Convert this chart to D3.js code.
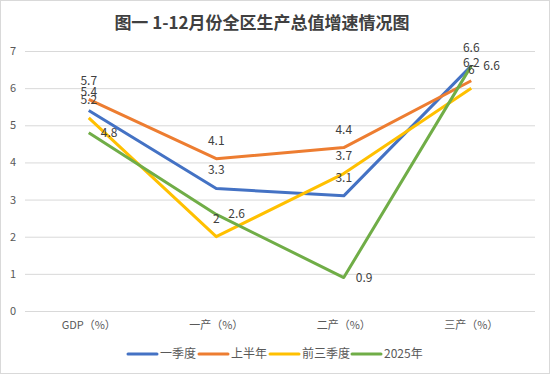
<!DOCTYPE html>
<html>
<head>
<meta charset="utf-8">
<script src="https://cdn.jsdelivr.net/npm/d3@7"></script>
<style>
  body { margin: 0; background: #fff; }
  svg text { font-family: "Noto Sans CJK SC", "Noto Sans", sans-serif; }
</style>
</head>
<body>
<div id="viz"></div>
<script>
// chart data
var categories = ["GDP（%）", "一产（%）", "二产（%）", "三产（%）"];
var seriesNames = ["一季度", "上半年", "前三季度", "2025年"];
var q1Values = [5.4, 3.3, 3.1, 6.6];
var h1Values = [5.7, 4.1, 4.4, 6.2];
var q3Values = [5.2, 2.0, 3.7, 6.0];
var yearValues = [4.8, 2.6, 0.9, 6.6];
var yTicks = [0, 1, 2, 3, 4, 5, 6, 7];

var colors = ["#4472C4", "#ED7D31", "#FFC000", "#70AD47"];
var allValues = [q1Values, h1Values, q3Values, yearValues];

var width = 550,
    height = 374;

var svg = d3.select("div#viz")
            .append("svg")
            .attr("width", width)
            .attr("height", height);

// outer border like the office chart frame
svg.append("rect")
   .attr("x", 0.5).attr("y", 0.5)
   .attr("width", width - 1).attr("height", height - 1)
   .attr("fill", "#fff")
   .attr("stroke", "#d9d9d9");

var xScale = d3.scaleBand()
               .domain(categories)
               .range([25, 535]);

var yScale = d3.scaleLinear()
               .domain([0, 7])
               .range([311, 51]);

var xMid = function(c) { return xScale(c) + xScale.bandwidth() / 2; };

// title
svg.append("text")
   .attr("x", 262)
   .attr("y", 29)
   .attr("text-anchor", "middle")
   .style("font-size", "17px")
   .style("font-weight", "bold")
   .attr("fill", "#404040")
   .text("图一  1-12月份全区生产总值增速情况图");

// gridlines + y labels
var yAxis = d3.axisLeft(yScale)
              .tickValues(yTicks)
              .tickFormat(d3.format("d"))
              .tickSize(-(535 - 25))
              .tickPadding(9);

var gy = svg.append("g")
            .attr("transform", "translate(25,0)")
            .call(yAxis);
gy.select(".domain").remove();
gy.selectAll(".tick line").attr("stroke", "#d9d9d9");
gy.selectAll(".tick text")
  .attr("fill", "#595959")
  .style("font-size", "11px");

// x labels
var xAxis = d3.axisBottom(xScale).tickSize(0).tickPadding(10);
var gx = svg.append("g")
            .attr("transform", "translate(0,311)")
            .call(xAxis);
gx.select(".domain").remove();
gx.selectAll(".tick text")
  .attr("fill", "#595959")
  .style("font-size", "11px");

// lines
var line = d3.line()
             .x(function(d, i) { return xMid(categories[i]); })
             .y(function(d) { return yScale(d); });

allValues.forEach(function(vals, s) {
    svg.append("path")
       .datum(vals)
       .attr("d", line)
       .attr("fill", "none")
       .attr("stroke", colors[s])
       .attr("stroke-width", 3)
       .attr("stroke-linejoin", "round");
});

// data labels: first three series above, last one to the right
allValues.forEach(function(vals, s) {
    svg.selectAll(null)
       .data(vals)
       .enter()
       .append("text")
       .attr("x", function(d, i) { return s === 3 ? xMid(categories[i]) + 12 : xMid(categories[i]); })
       .attr("y", function(d) { return s === 3 ? yScale(d) + 4 : yScale(d) - 14; })
       .attr("text-anchor", s === 3 ? "start" : "middle")
       .attr("fill", "#404040")
       .style("font-size", "12px")
       .text(function(d) { return d; });
});

// legend
var legendX = [128, 199, 270, 352];
var legend = svg.selectAll(".legend")
                .data(seriesNames)
                .enter()
                .append("g")
                .attr("transform", function(d, i) { return "translate(" + legendX[i] + ",354)"; });
legend.append("line")
      .attr("x1", 0).attr("x2", 29)
      .attr("stroke", function(d, i) { return colors[i]; })
      .attr("stroke-width", 3)
      .attr("stroke-linecap", "round");
legend.append("text")
      .attr("x", 32)
      .attr("y", 4)
      .attr("fill", "#595959")
      .style("font-size", "12px")
      .text(function(d) { return d; });
</script>
</body>
</html>
